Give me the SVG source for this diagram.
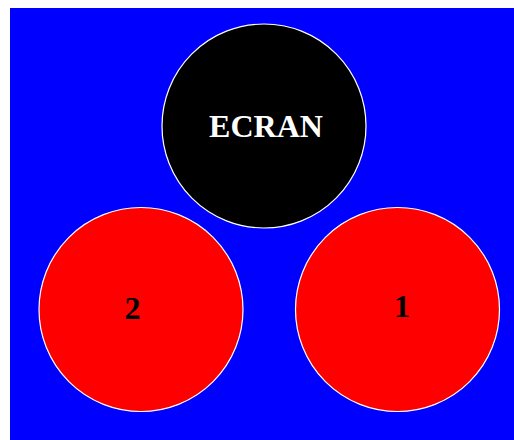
<svg xmlns="http://www.w3.org/2000/svg" width="514" height="440" viewBox="0 0 514 440">
<style>
.node circle{stroke:#ffffff;stroke-width:1.2}
.lbl{font-family:"Liberation Serif","Times New Roman",serif;font-weight:bold;font-size:32px;text-anchor:middle}
</style>
<rect x="0" y="0" width="514" height="440" fill="#ffffff"/>
<rect x="10" y="8" width="504" height="432" fill="#0000ff"/>
<g id="connectors"></g>
<g id="ecran" class="node">
<circle cx="264" cy="126" r="102" fill="#000000"/>
<text class="lbl" x="266" y="137" fill="#ffffff">ECRAN</text>
</g>
<g id="n2" class="node">
<circle cx="141" cy="309.5" r="102" fill="#ff0000"/>
<text class="lbl" x="132.5" y="319" fill="#000000">2</text>
</g>
<g id="n1" class="node">
<circle cx="397.5" cy="309.5" r="102" fill="#ff0000"/>
<text class="lbl" x="402" y="317" fill="#000000">1</text>
</g>
</svg>
